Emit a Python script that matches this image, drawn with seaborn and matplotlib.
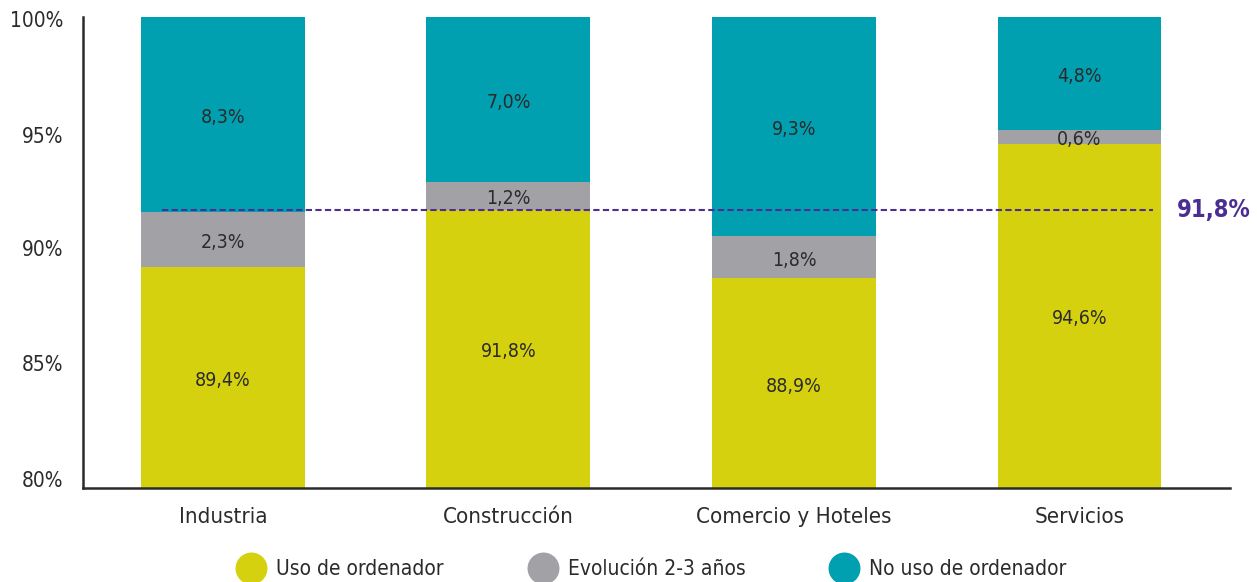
import matplotlib
matplotlib.use("Agg")
import matplotlib.pyplot as plt
from matplotlib.lines import Line2D
import pandas as pd
import seaborn as sns

# ==========================================
# DATA
# ==========================================
sectores = ["Industria", "Construcción", "Comercio y Hoteles", "Servicios"]
uso = [89.4, 91.8, 88.9, 94.6]
evolucion = [2.3, 1.2, 1.8, 0.6]
no_uso = [8.3, 7.0, 9.3, 4.8]
media = 91.8

series_names = ["Uso de ordenador", "Evolución 2-3 años", "No uso de ordenador"]
colors = ["#d6d10f", "#a2a2a6", "#00a0b0"]

# ==========================================
# STYLE
# ==========================================
sns.set_theme(style="white")
plt.rcParams["font.family"] = ["DejaVu Sans"]
plt.rcParams["font.stretch"] = "condensed"
txt = "#2b2b2b"

df = pd.DataFrame({"sector": sectores, "uso": uso, "evol": evolucion, "no_uso": no_uso})
df["top1"] = df["uso"] + df["evol"]
df["top2"] = df["top1"] + df["no_uso"]

fig = plt.figure(figsize=(12.57, 5.82), dpi=100)
ax = fig.add_axes([0.066, 0.1615, 0.9125, 0.8093])

# stacked bars drawn as overlapping cumulative totals
for col, c in zip(["top2", "top1", "uso"], colors[::-1]):
    sns.barplot(data=df, x="sector", y=col, color=c, width=0.574,
                saturation=1, linewidth=0, edgecolor="none", ax=ax, zorder=2)

# segment labels
for i, row in df.iterrows():
    segs = [(80, row["uso"]), (row["uso"], row["top1"]), (row["top1"], row["top2"])]
    vals = [row["uso"], row["evol"], row["no_uso"]]
    for (lo, hi), v in zip(segs, vals):
        ax.text(i, (lo + hi) / 2 - 0.12, f"{v:.1f}%".replace(".", ","),
                ha="center", va="center", fontsize=14, color=txt, zorder=4)

# average line
ax.plot([-0.214, 3.257], [media, media], color="#4b2e91", lw=1.5,
        ls=(0, (3, 1.6)), zorder=3)
ax.text(3.34, media, f"{media:.1f}%".replace(".", ","), color="#4b2e91",
        fontsize=17, fontweight="bold", va="center", ha="left", clip_on=False)

ax.set_ylim(80, 100)
ax.set_xlim(-0.49, 3.527)
ax.set_yticks([80.4, 85.3, 90.2, 95.0, 99.9])
ax.set_yticklabels(["80%", "85%", "90%", "95%", "100%"])
ax.set_xlabel("")
ax.set_ylabel("")
ax.tick_params(axis="y", length=0, pad=14, labelsize=15, labelcolor=txt)
ax.tick_params(axis="x", length=0, pad=14, labelsize=16, labelcolor=txt)
for s in ["top", "right"]:
    ax.spines[s].set_visible(False)
for s in ["left", "bottom"]:
    ax.spines[s].set_color("#2b2b2b")
    ax.spines[s].set_linewidth(1.8)

handles = [Line2D([], [], marker="o", ls="", markersize=22, color=c) for c in colors]
fig.legend(handles, series_names, loc="lower center", bbox_to_anchor=(0.516, -0.027),
           ncol=3, frameon=False, fontsize=15, handletextpad=0.2, columnspacing=3.75,
           labelcolor=txt)

fig.savefig("out.png", dpi=100)
